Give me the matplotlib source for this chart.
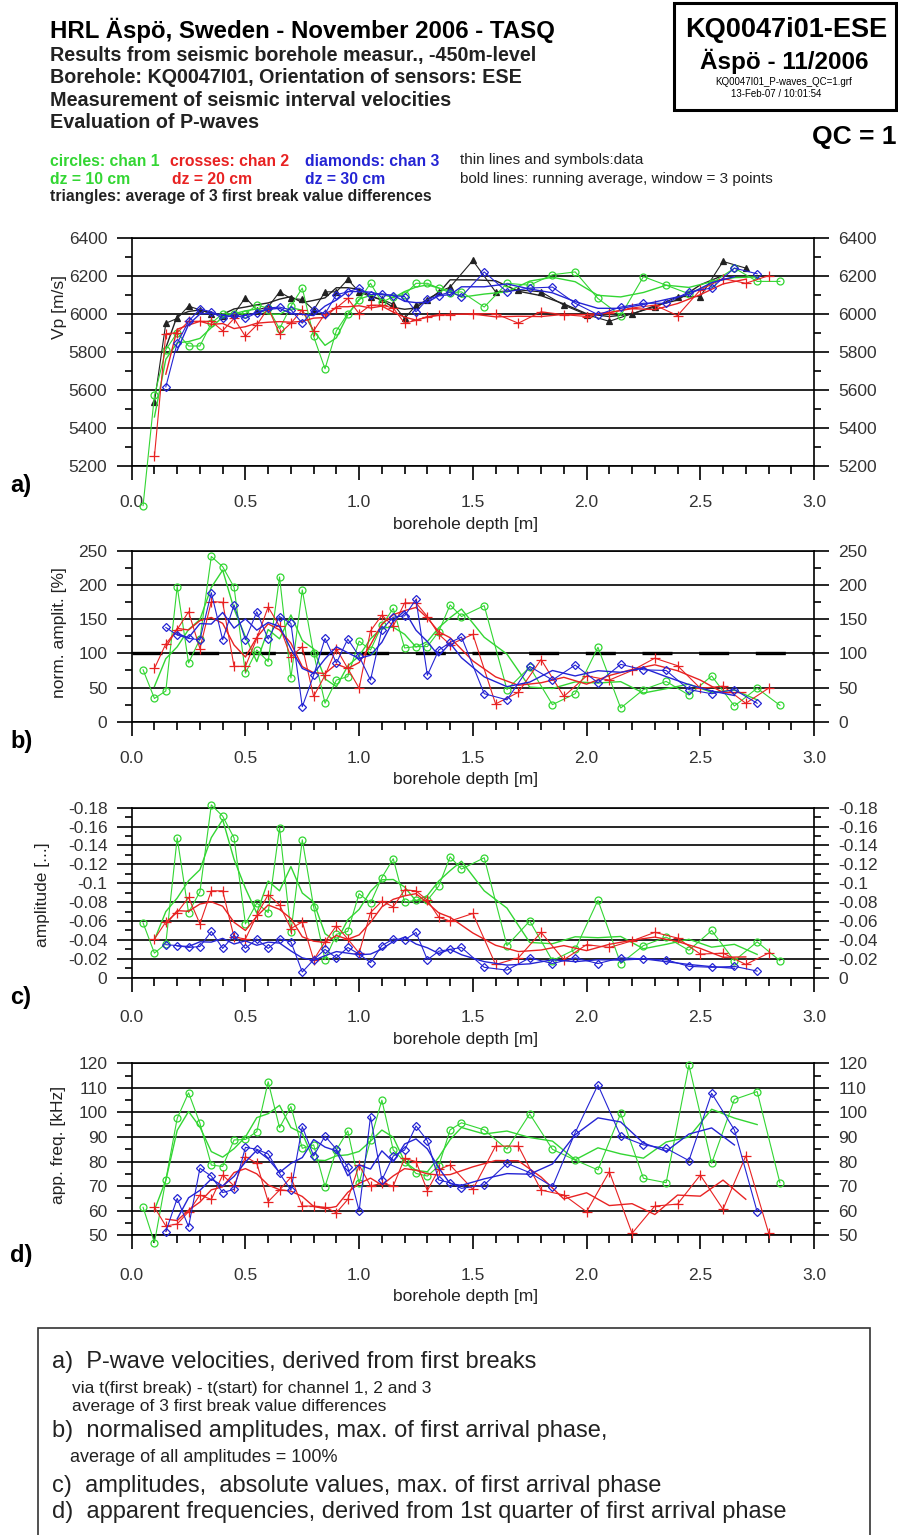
import numpy as np
import pandas as pd
import matplotlib
matplotlib.use("Agg")
import matplotlib.pyplot as plt
from matplotlib.ticker import MultipleLocator, FuncFormatter
from matplotlib.patches import Rectangle

plt.rcParams['font.family'] = ['Liberation Sans', 'DejaVu Sans']
plt.rcParams['axes.unicode_minus'] = False

# depths [m] of each channel
depth_green = [0.05, 0.10, 0.15, 0.20, 0.25, 0.30, 0.35, 0.40, 0.45, 0.50, 0.55, 0.60, 0.65, 0.70, 0.75,
               0.80, 0.85, 0.90, 0.95, 1.00, 1.05, 1.10, 1.15, 1.20, 1.25, 1.30, 1.35, 1.40, 1.45,
               1.55, 1.65, 1.75, 1.85, 1.95, 2.05, 2.15, 2.25, 2.35, 2.45, 2.55, 2.65, 2.75, 2.85]
depth_red = [0.10, 0.15, 0.20, 0.25, 0.30, 0.35, 0.40, 0.45, 0.50, 0.55, 0.60, 0.65, 0.70, 0.75,
             0.80, 0.85, 0.90, 0.95, 1.00, 1.05, 1.10, 1.15, 1.20, 1.25, 1.30, 1.35, 1.40,
             1.50, 1.60, 1.70, 1.80, 1.90, 2.00, 2.10, 2.20, 2.30, 2.40, 2.50, 2.60, 2.70, 2.80]
depth_blue = [0.15, 0.20, 0.25, 0.30, 0.35, 0.40, 0.45, 0.50, 0.55, 0.60, 0.65, 0.70, 0.75,
              0.80, 0.85, 0.90, 0.95, 1.00, 1.05, 1.10, 1.15, 1.20, 1.25, 1.30, 1.35, 1.40, 1.45,
              1.55, 1.65, 1.75, 1.85, 1.95, 2.05, 2.15, 2.25, 2.35, 2.45, 2.55, 2.65, 2.75]
depth_black = [0.10, 0.15, 0.20, 0.25, 0.30, 0.35, 0.40, 0.45, 0.50, 0.55, 0.60, 0.65, 0.70, 0.75,
               0.80, 0.85, 0.90, 0.95, 1.00, 1.05, 1.10, 1.15, 1.20, 1.25, 1.30, 1.35, 1.40,
               1.50, 1.60, 1.70, 1.80, 1.90, 2.00, 2.10, 2.20, 2.30, 2.40, 2.50, 2.60, 2.70]

# a) P-wave velocities [m/s]
vp_green = [4990, 5570, 5810, 5900, 5830, 5830, 5950, 6000, 6000, 6000, 6045, 6030, 5920, 6040, 6135,
            5880, 5710, 5910, 6000, 6070, 6160, 6060, 6090, 6100, 6160, 6160, 6135, 6110, 6115,
            6035, 6160, 6150, 6205, 6220, 6080, 5990, 6195, 6150, 6105, 6160, 6240, 6170, 6170]
vp_red = [5250, 5895, 5900, 5960, 5960, 5960, 5910, 5975, 5880, 5940, 6030, 5895, 5950, 6020,
          5910, 6000, 6030, 6080, 6000, 6045, 6045, 6030, 5950, 5965, 5985, 5995, 5995,
          6000, 6000, 5950, 6010, 5995, 5985, 6005, 6030, 6045, 5990, 6125, 6185, 6160, 6200]
vp_blue = [5615, 5845, 5960, 6025, 6010, 5975, 5995, 5975, 6005, 6030, 6035, 6020, 5950,
           6020, 6000, 6100, 6115, 6135, 6100, 6105, 6095, 6090, 6010, 6075, 6095, 6115, 6090,
           6220, 6115, 6135, 6140, 6055, 5995, 6035, 6055, 6055, 6115, 6135, 6240, 6210]
vp_black = [5535, 5950, 5975, 6040, 6020, 6000, 5990, 6000, 6085, 6020, 6035, 6115, 6080, 6075,
            6020, 6115, 6115, 6180, 6115, 6090, 6075, 6050, 5975, 6045, 6070, 6115, 6140,
            6280, 6115, 6125, 6115, 6045, 5995, 5960, 6000, 6035, 6090, 6090, 6275, 6240]

# b) normalised amplitudes [%]
norm_green = [76, 34, 45, 198, 86, 121, 242, 227, 197, 71, 105, 88, 212, 64, 193,
              100, 27, 61, 66, 118, 105, 141, 166, 108, 110, 110, 132, 171, 154,
              170, 47, 80, 25, 41, 109, 20, 47, 59, 39, 67, 23, 49, 24]
norm_red = [78, 114, 135, 161, 107, 176, 175, 81, 81, 122, 168, 140, 95, 110,
            37, 68, 107, 78, 49, 133, 156, 140, 174, 174, 154, 128, 113,
            128, 26, 43, 91, 37, 67, 61, 75, 93, 82, 49, 52, 27, 49]
norm_blue = [138, 127, 122, 120, 189, 120, 171, 120, 161, 121, 154, 144, 22,
             68, 122, 86, 121, 96, 61, 135, 153, 155, 179, 68, 105, 116, 124,
             41, 32, 81, 61, 83, 57, 84, 76, 75, 47, 41, 47, 27]

# c) amplitudes (first arrival maximum)
amp_green = [-0.058, -0.026, -0.036, -0.148, -0.069, -0.091, -0.183, -0.171, -0.148, -0.057, -0.079,
             -0.069, -0.159, -0.048, -0.146, -0.075, -0.019, -0.046, -0.049, -0.089, -0.079, -0.106,
             -0.126, -0.080, -0.082, -0.082, -0.097, -0.128, -0.115,
             -0.127, -0.034, -0.060, -0.018, -0.030, -0.082, -0.015, -0.034, -0.043, -0.029, -0.050,
             -0.018, -0.038, -0.018]
amp_red = [-0.041, -0.059, -0.069, -0.085, -0.057, -0.092, -0.092, -0.043, -0.041, -0.066, -0.088,
           -0.077, -0.052, -0.059, -0.019, -0.038, -0.055, -0.041, -0.026, -0.069, -0.081, -0.075,
           -0.093, -0.092, -0.082, -0.064, -0.060,
           -0.068, -0.014, -0.021, -0.048, -0.019, -0.035, -0.032, -0.039, -0.048, -0.042, -0.025,
           -0.026, -0.014, -0.026]
amp_blue = [-0.035, -0.034, -0.032, -0.033, -0.049, -0.031, -0.045, -0.031, -0.041, -0.031, -0.041,
            -0.038, -0.006, -0.019, -0.030, -0.021, -0.032, -0.025, -0.016, -0.034, -0.041, -0.040,
            -0.048, -0.019, -0.028, -0.030, -0.032,
            -0.011, -0.008, -0.021, -0.015, -0.021, -0.015, -0.021, -0.020, -0.019, -0.012, -0.011,
            -0.012, -0.007]

# d) apparent frequencies [kHz]
freq_green = [61.4, 47.0, 72.5, 97.6, 108, 95.6, 78.6, 78, 88.8, 89, 92.2, 112.5, 93.8, 102.4, 85.4,
              86.8, 69.8, 84.7, 92.5, 71.1, 88.8, 105, 84.7, 80, 75.2, 74.1, 78.2, 92.9, 95.8,
              92.9, 85, 99.4, 85, 80.6, 76.6, 99.6, 73.2, 71.4, 119.3, 79.3, 105.3, 108.5, 71.4]
freq_red = [61.4, 53.8, 54.6, 59.6, 66.4, 64.6, 74.5, 70.1, 82, 79.3, 63.7, 68.4, 73.6, 61.9,
            61.9, 61.4, 59.2, 64.6, 78.6, 70.1, 71.1, 70.1, 81.3, 80, 68.2, 76.8, 78.6,
            68.7, 86.3, 86.3, 68.4, 66.4, 59.6, 75.9, 50.8, 61.9, 62.7, 74.5, 60.6, 82.3, 51.1]
freq_blue = [51.5, 65, 53.5, 77.3, 74.1, 67.4, 68.7, 85.8, 85, 83.1, 75.2, 68.4, 94.2,
             82.3, 90.4, 85, 77.7, 60, 98.3, 72.5, 82.3, 84.7, 94.5, 88.5, 72.5, 71.4, 69.1,
             70.5, 79.3, 75.5, 69.8, 91.8, 111.2, 90.4, 86.8, 85.4, 80.4, 107.8, 92.9, 59.6]

W, H = 898, 1535
GREEN = '#33d633'
RED = '#e82222'
BLUE = '#2424d4'
BLACK = '#222222'
AX_LEFT, AX_RIGHT = 131.7, 814.0


def px(x, y):
    return x / W, 1 - y / H


def running_avg(values):
    # window = 3 points
    return pd.Series(values).rolling(3, center=True).mean()


def draw_series(ax, depth, values, color, marker, ms, filled=False):
    ax.plot(depth, values, color=color, lw=0.8, marker=marker, ms=ms,
            mfc=color if filled else 'none', mec=color, mew=0.9, clip_on=False, zorder=3)
    ax.plot(depth, running_avg(values), color=color, lw=1.0, zorder=3)


def make_axis(top, bottom, ylim, major, minor, fmt, ylabel, label_x, label_y, letter, pad_x):
    ax = fig.add_axes([AX_LEFT / W, 1 - bottom / H, (AX_RIGHT - AX_LEFT) / W, (bottom - top) / H])
    ax.set_xlim(0, 3)
    ax.set_ylim(*ylim)
    ax.xaxis.set_major_locator(MultipleLocator(0.5))
    ax.xaxis.set_minor_locator(MultipleLocator(0.1))
    ax.xaxis.set_major_formatter(FuncFormatter(lambda v, p: '%.1f' % v))
    ax.yaxis.set_major_locator(MultipleLocator(major))
    ax.yaxis.set_minor_locator(MultipleLocator(minor))
    ax.yaxis.set_major_formatter(FuncFormatter(fmt))
    ax.tick_params(axis='y', which='both', direction='out', left=True, right=True,
                   labelleft=True, labelright=True, width=1.2, pad=7, labelsize=12.5, labelcolor='#333333')
    ax.tick_params(axis='y', which='major', length=10.5)
    ax.tick_params(axis='y', which='minor', length=5)
    ax.tick_params(axis='x', which='both', direction='out', top=False, width=1.2,
                   labelsize=12.5, labelcolor='#333333', pad=pad_x)
    ax.tick_params(axis='x', which='major', length=10.3)
    ax.tick_params(axis='x', which='minor', length=5.5)
    for s in ax.spines.values():
        s.set_linewidth(1.2)
    ax.yaxis.grid(True, which='major', color='black', lw=1.2)
    ax.set_axisbelow(True)
    h = bottom - top
    ax.set_xlabel('borehole depth [m]', fontsize=12.5, color='#222222')
    ax.xaxis.set_label_coords((466 - AX_LEFT) / (AX_RIGHT - AX_LEFT), -(pad_x * 1.389 + 36) / h)
    ax.set_ylabel(ylabel, fontsize=12.5, color='#222222')
    ax.yaxis.set_label_coords((label_x - AX_LEFT) / (AX_RIGHT - AX_LEFT), (bottom - label_y) / h)
    fig.text(*px(10, bottom + 20), letter, fontsize=17, fontweight='bold', va='center')
    return ax


fig = plt.figure(figsize=(W / 100, H / 100), dpi=100)

# header
fig.text(*px(50, 30), 'HRL Äspö, Sweden - November 2006 - TASQ', fontsize=17.3, fontweight='bold', va='center')
header_lines = ['Results from seismic borehole measur., -450m-level',
                'Borehole: KQ0047I01, Orientation of sensors: ESE',
                'Measurement of seismic interval velocities',
                'Evaluation of P-waves']
for i, line in enumerate(header_lines):
    fig.text(*px(50, 55 + i * 22.5), line, fontsize=14.2, fontweight='bold', va='center', color='#222222')

fig.patches.append(Rectangle(px(674, 110), 222 / W, 107 / H, transform=fig.transFigure,
                             fill=False, lw=2.2, ec='black'))
fig.text(*px(786, 30), 'KQ0047i01-ESE', fontsize=19.5, fontweight='bold', ha='center', va='center')
fig.text(*px(784, 61), 'Äspö - 11/2006', fontsize=17.5, fontweight='bold', ha='center', va='center')
fig.text(*px(784, 82), 'KQ0047I01_P-waves_QC=1.grf', fontsize=7, ha='center', va='center')
fig.text(*px(776, 94), '13-Feb-07 / 10:01:54', fontsize=7, ha='center', va='center')
fig.text(*px(897, 137), 'QC = 1', fontsize=19, fontweight='bold', ha='right', va='center')

fig.text(*px(50, 161), 'circles: chan 1', fontsize=11.3, fontweight='bold', color=GREEN, va='center')
fig.text(*px(170, 161), 'crosses: chan 2', fontsize=11.3, fontweight='bold', color=RED, va='center')
fig.text(*px(305, 161), 'diamonds: chan 3', fontsize=11.3, fontweight='bold', color=BLUE, va='center')
fig.text(*px(50, 179), 'dz = 10 cm', fontsize=11.3, fontweight='bold', color=GREEN, va='center')
fig.text(*px(172, 179), 'dz = 20 cm', fontsize=11.3, fontweight='bold', color=RED, va='center')
fig.text(*px(305, 179), 'dz = 30 cm', fontsize=11.3, fontweight='bold', color=BLUE, va='center')
fig.text(*px(50, 197), 'triangles: average of 3 first break value differences', fontsize=11.3,
         fontweight='bold', color='#222222', va='center')
fig.text(*px(460, 160), 'thin lines and symbols:data', fontsize=11, color='#222222', va='center')
fig.text(*px(460, 179), 'bold lines: running average, window = 3 points', fontsize=11,
         color='#222222', va='center')

# a) velocities
ax_a = make_axis(237.7, 465.7, (5200, 6400), 200, 100, lambda v, p: '%d' % v,
                 'Vp [m/s]', 67, 307, 'a)', 11)
draw_series(ax_a, depth_black, vp_black, BLACK, '^', 5, filled=True)
draw_series(ax_a, depth_green, vp_green, GREEN, 'o', 5)
draw_series(ax_a, depth_red, vp_red, RED, '+', 7)
draw_series(ax_a, depth_blue, vp_blue, BLUE, 'D', 4)

# b) normalised amplitudes
ax_b = make_axis(551.0, 721.7, (0, 250), 50, 25, lambda v, p: '%d' % v,
                 'norm. amplit. [%]', 67, 633, 'b)', 10.5)
ax_b.axhline(100, color='black', lw=2.4, ls=(0, (9, 8)), zorder=2)
draw_series(ax_b, depth_green, norm_green, GREEN, 'o', 5)
draw_series(ax_b, depth_red, norm_red, RED, '+', 7)
draw_series(ax_b, depth_blue, norm_blue, BLUE, 'D', 4)

# c) amplitudes
ax_c = make_axis(807.7, 977.7, (0, -0.18), 0.02, 0.01, lambda v, p: '%g' % (round(v, 3) + 0.0),
                 'amplitude [...]', 50, 895, 'c)', 13)
draw_series(ax_c, depth_green, amp_green, GREEN, 'o', 5)
draw_series(ax_c, depth_red, amp_red, RED, '+', 7)
draw_series(ax_c, depth_blue, amp_blue, BLUE, 'D', 4)

# d) apparent frequencies
ax_d = make_axis(1063.3, 1235.3, (50, 120), 10, 5, lambda v, p: '%d' % v,
                 'app. freq. [kHz]', 66, 1145, 'd)', 13)
draw_series(ax_d, depth_green, freq_green, GREEN, 'o', 5)
draw_series(ax_d, depth_red, freq_red, RED, '+', 7)
draw_series(ax_d, depth_blue, freq_blue, BLUE, 'D', 4)

# explanation box
fig.patches.append(Rectangle(px(38, 1545), 832 / W, 217 / H, transform=fig.transFigure,
                             fill=False, lw=1.2, ec='#333333'))
notes = [(52, 1362, 'a)  P-wave velocities, derived from first breaks', 17),
         (72, 1388, 'via t(first break) - t(start) for channel 1, 2 and 3', 12.5),
         (72, 1406, 'average of 3 first break value differences', 12.5),
         (52, 1431, 'b)  normalised amplitudes, max. of first arrival phase,', 17),
         (70, 1458, 'average of all amplitudes = 100%', 13),
         (52, 1486, 'c)  amplitudes,  absolute values, max. of first arrival phase', 17),
         (52, 1512, 'd)  apparent frequencies, derived from 1st quarter of first arrival phase', 17)]
for x, y, txt, size in notes:
    fig.text(*px(x, y), txt, fontsize=size, va='center', color='#222222')

fig.savefig('out.png', dpi=100)
